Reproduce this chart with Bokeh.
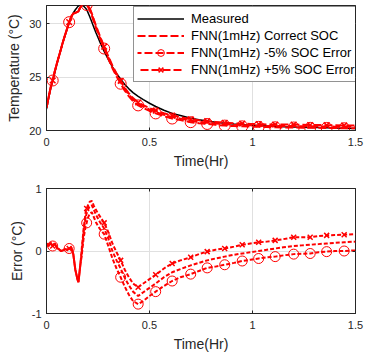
import numpy as np
from bokeh.plotting import figure
from bokeh.layouts import column
from bokeh.models import Range1d, FixedTicker, Legend, LegendItem, LinearAxis
from bokeh.embed import file_html
from bokeh.resources import INLINE

# ---------------- data ----------------
time_hr = [0, 0.01, 0.02, 0.03, 0.04, 0.05, 0.06, 0.07, 0.08, 0.09, 0.10, 0.11, 0.12, 0.13, 0.14, 0.15,
           0.155, 0.16, 0.165, 0.17, 0.18, 0.19, 0.195, 0.20, 0.21, 0.22, 0.23, 0.24, 0.25, 0.26,
           0.28, 0.30, 0.32, 0.34, 0.36, 0.38, 0.40, 0.42, 0.445, 0.47, 0.50, 0.53, 0.57, 0.61, 0.65,
           0.70, 0.74, 0.78, 0.82, 0.865, 0.91, 0.95, 0.99, 1.03, 1.07, 1.11, 1.15, 1.20, 1.24, 1.28,
           1.32, 1.36, 1.40, 1.445, 1.50]

measured = [22.0, 23.0, 23.9, 24.6, 25.4, 26.2, 26.9, 27.6, 28.3, 28.9, 29.5, 30.1, 30.6, 31.0, 31.3, 31.55,
            31.65, 31.72, 31.75, 31.75, 31.65, 31.45, 31.3, 31.1, 30.65, 30.15, 29.65, 29.15, 28.7, 28.25,
            27.4, 26.65, 25.95, 25.35, 24.8, 24.3, 23.9, 23.55, 23.2, 22.9, 22.55, 22.25, 21.9, 21.6, 21.4,
            21.15, 21.0, 20.88, 20.78, 20.68, 20.6, 20.55, 20.5, 20.46, 20.42, 20.39, 20.36, 20.33, 20.31, 20.29,
            20.27, 20.25, 20.23, 20.21, 20.19]

err_correct = [0.12, 0.08, 0.13, 0.08, 0.12, 0.05, 0.03, 0.00, 0.01, 0.03, 0.02, 0.04, 0.06, -0.05, -0.30, -0.45,
               -0.50, -0.35, -0.20, -0.05, 0.30, 0.55, 0.60, 0.65, 0.72, 0.73, 0.66, 0.58, 0.52, 0.46,
               0.36, 0.20, 0.00, -0.15, -0.28, -0.43, -0.55, -0.65, -0.72, -0.66, -0.59, -0.52, -0.42, -0.34, -0.29,
               -0.23, -0.19, -0.15, -0.12, -0.09, -0.06, -0.04, -0.02, 0.00, 0.02, 0.04, 0.06, 0.08, 0.09, 0.10,
               0.11, 0.12, 0.13, 0.14, 0.15]

err_minus5 = [0.12, 0.08, 0.13, 0.08, 0.12, 0.05, 0.03, 0.00, 0.01, 0.03, 0.02, 0.04, 0.06, -0.05, -0.30, -0.45,
              -0.50, -0.35, -0.20, -0.10, 0.20, 0.40, 0.45, 0.52, 0.60, 0.62, 0.54, 0.46, 0.40, 0.35,
              0.27, 0.08, -0.12, -0.28, -0.42, -0.57, -0.70, -0.80, -0.85, -0.80, -0.72, -0.65, -0.56, -0.48, -0.42,
              -0.37, -0.32, -0.27, -0.25, -0.22, -0.19, -0.16, -0.14, -0.12, -0.10, -0.09, -0.07, -0.05, -0.045, -0.04,
              -0.02, -0.01, 0.00, 0.00, 0.01]

err_plus5 = [0.12, 0.08, 0.13, 0.08, 0.12, 0.05, 0.03, 0.00, 0.01, 0.03, 0.02, 0.04, 0.06, -0.05, -0.30, -0.45,
             -0.50, -0.35, -0.20, 0.00, 0.35, 0.62, 0.68, 0.72, 0.79, 0.80, 0.72, 0.66, 0.60, 0.55,
             0.45, 0.30, 0.12, -0.02, -0.15, -0.30, -0.42, -0.52, -0.58, -0.52, -0.45, -0.38, -0.28, -0.20, -0.15,
             -0.10, -0.05, -0.01, 0.02, 0.04, 0.07, 0.10, 0.12, 0.14, 0.15, 0.17, 0.19, 0.22, 0.22, 0.22,
             0.24, 0.25, 0.255, 0.26, 0.27]

marker_times = [0.03, 0.11, 0.195, 0.28, 0.36, 0.445, 0.53, 0.61, 0.70, 0.78, 0.865, 0.95,
                1.03, 1.11, 1.20, 1.28, 1.36, 1.445]

x_ticks = [0, 0.5, 1, 1.5]
x_tick_labels = ["0", "0.5", "1", "1.5"]
temp_ticks = [20, 25, 30]
temp_tick_labels = ["20", "25", "30"]
err_ticks = [-1, 0, 1]
err_tick_labels = ["-1", "0", "1"]

legend_labels = ["Measured", "FNN(1mHz) Correct SOC", "FNN(1mHz) -5% SOC Error", "FNN(1mHz) +5% SOC Error"]

# ---------------- derived ----------------
t = np.array(time_hr)
meas = np.array(measured)
ec = np.array(err_correct)
em = np.array(err_minus5)
ep = np.array(err_plus5)
pred_c = meas + ec
pred_m = meas + em
pred_p = meas + ep
mask = np.isin(np.round(t, 4), np.round(np.array(marker_times), 4))

FONT = "Liberation Sans"
DARK = "#262626"
RED = "#ff0000"


def mirror_axis(p, ticks, side):
    ax = LinearAxis(ticker=FixedTicker(ticks=ticks),
                    major_label_overrides={float(k): "" for k in ticks},
                    major_label_text_font_size="0px", major_label_standoff=0,
                    major_tick_in=3, major_tick_out=0, minor_tick_in=0, minor_tick_out=0,
                    axis_line_color=None, major_tick_line_color=DARK)
    p.add_layout(ax, side)


def style(p, yticks, ylabels, ylabel):
    p.xaxis.ticker = FixedTicker(ticks=x_ticks)
    p.xaxis.major_label_overrides = {float(k): v for k, v in zip(x_ticks, x_tick_labels)}
    p.yaxis.ticker = FixedTicker(ticks=yticks)
    p.yaxis.major_label_overrides = {float(k): v for k, v in zip(yticks, ylabels)}
    p.xaxis.axis_label = "Time(Hr)"
    p.yaxis.axis_label = ylabel
    for ax in p.axis:
        ax.major_tick_in = 3
        ax.major_tick_out = 0
        ax.minor_tick_in = 0
        ax.minor_tick_out = 0
        ax.axis_line_color = DARK
        ax.major_tick_line_color = DARK
        ax.major_label_text_font = FONT
        ax.major_label_text_font_size = "11px"
        ax.major_label_text_color = DARK
        ax.axis_label_text_font = FONT
        ax.axis_label_text_font_size = "14px"
        ax.axis_label_text_font_style = "normal"
        ax.axis_label_text_color = DARK
    p.xaxis.major_label_standoff = 7
    p.xaxis.axis_label_standoff = 4
    p.yaxis.major_label_standoff = 5
    p.yaxis.axis_label_standoff = 4
    p.grid.grid_line_color = "#e0e0e0"
    p.grid.grid_line_width = 1
    p.outline_line_color = DARK
    p.outline_line_width = 1
    p.background_fill_color = "white"
    p.border_fill_color = "white"
    mirror_axis(p, x_ticks, "above")
    mirror_axis(p, yticks, "right")


# ---------------- top plot ----------------
p1 = figure(width=365, height=180, x_range=Range1d(0, 1.5), y_range=Range1d(20, 31.7),
            output_backend="svg", toolbar_location=None,
            min_border_left=46, min_border_right=10, min_border_top=5, min_border_bottom=50)
style(p1, temp_ticks, temp_tick_labels, "Temperature (°C)")

r_meas = p1.line(t, meas, line_color="black", line_width=1.5)
r_c = p1.line(t, pred_c, line_color=RED, line_width=2, line_dash="8 3", line_dash_offset=0)
r_m = p1.line(t, pred_m, line_color=RED, line_width=2, line_dash="8 3", line_dash_offset=4)
r_p = p1.line(t, pred_p, line_color=RED, line_width=2, line_dash="8 3", line_dash_offset=8)
r_mo = p1.scatter(t[mask], pred_m[mask], marker="circle", size=11, fill_color=None,
                  line_color=RED, line_width=1)
r_px = p1.scatter(t[mask], pred_p[mask], marker="x", size=8, line_color=RED, line_width=1.5)

legend = Legend(items=[
    LegendItem(label=legend_labels[0], renderers=[r_meas]),
    LegendItem(label=legend_labels[1], renderers=[r_c]),
    LegendItem(label=legend_labels[2], renderers=[r_m, r_mo]),
    LegendItem(label=legend_labels[3], renderers=[r_p, r_px]),
], location=(87, 48))
legend.margin = 0
legend.padding = 3
legend.spacing = 0
legend.glyph_width = 47
legend.glyph_height = 17
legend.label_height = 17
legend.label_standoff = 7
legend.label_text_font = FONT
legend.label_text_font_size = "13px"
legend.label_text_color = "black"
legend.border_line_color = DARK
legend.border_line_width = 1
legend.background_fill_color = "white"
legend.background_fill_alpha = 1
p1.add_layout(legend)

# ---------------- bottom plot ----------------
p2 = figure(width=365, height=178, x_range=Range1d(0, 1.5), y_range=Range1d(-1, 1),
            output_backend="svg", toolbar_location=None,
            min_border_left=46, min_border_right=10, min_border_top=8, min_border_bottom=45)
style(p2, err_ticks, err_tick_labels, "Error (°C)")

p2.line(t, ec, line_color=RED, line_width=2, line_dash="4 2")
p2.line(t, em, line_color=RED, line_width=2, line_dash="4 2", line_dash_offset=2)
p2.line(t, ep, line_color=RED, line_width=2, line_dash="4 2", line_dash_offset=4)
p2.scatter(t[mask], em[mask], marker="circle", size=10, fill_color=None, line_color=RED, line_width=1)
p2.scatter(t[mask], ep[mask], marker="x", size=7, line_color=RED, line_width=1.5)

layout = column(p1, p2, spacing=0)

open("out.html", "w").write(file_html(layout, INLINE))
